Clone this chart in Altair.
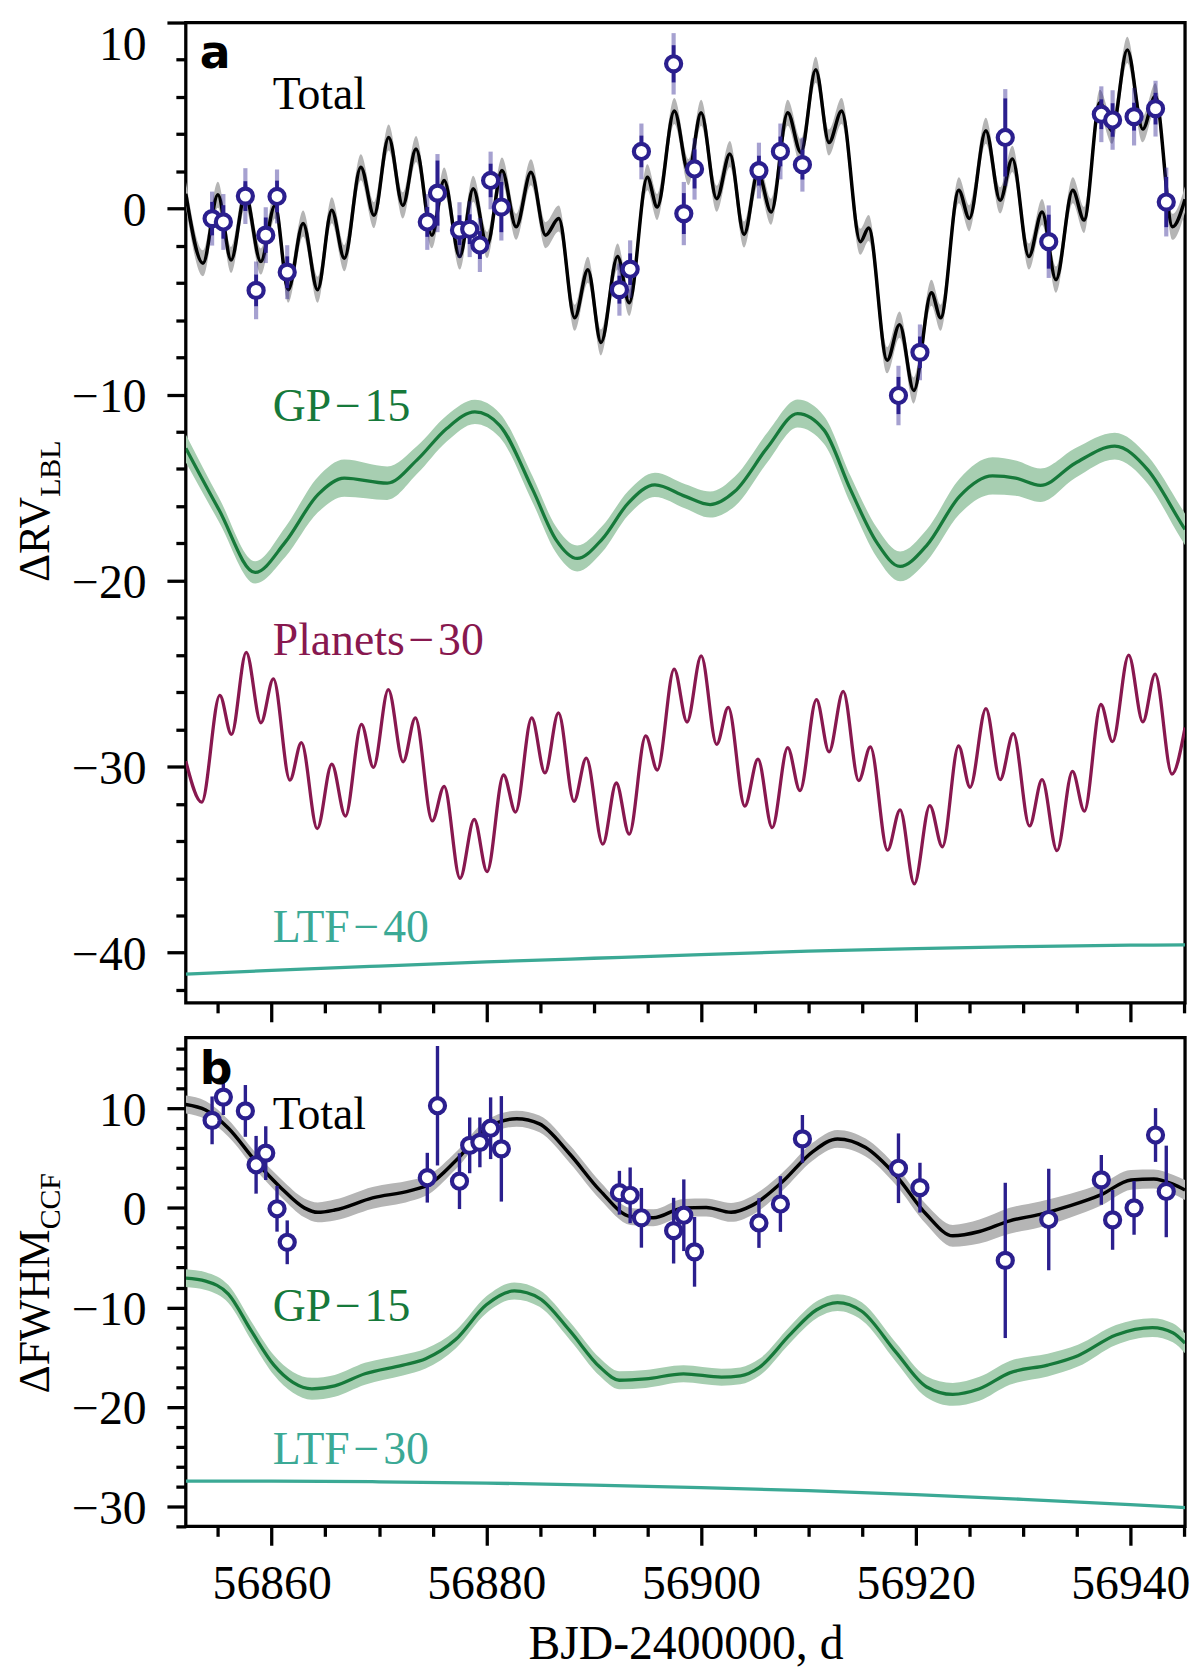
import altair as alt
import pandas as pd

# ---------------- data ----------------
OBS_T = [56854.45, 56855.5, 56857.55, 56858.55, 56859.45, 56860.5, 56861.45,
         56874.5, 56875.45, 56877.5, 56878.45, 56879.4, 56880.4, 56881.4,
         56892.4, 56893.4, 56894.45, 56897.45, 56898.4, 56899.4,
         56905.4, 56907.4, 56909.45, 56918.4, 56920.4, 56928.35, 56932.4,
         56937.3, 56938.35, 56940.35, 56942.35, 56943.35]
RV = [-0.54, -0.72, 0.67, -4.4, -1.43, 0.65, -3.42,
      -0.72, 0.83, -1.16, -1.11, -1.96, 1.51, 0.08,
      -4.36, -3.26, 3.07, 7.78, -0.27, 2.13,
      2.04, 3.07, 2.36, -10.05, -7.73, 3.82, -1.78,
      5.07, 4.76, 4.94, 5.37, 0.35]
RV_ERR_IN = [0.9, 0.9, 0.8, 0.85, 0.95, 0.85, 0.85,
             0.8, 1.75, 0.8, 0.8, 0.75, 0.9, 1.35,
             0.75, 0.85, 0.85, 1.0, 1.1, 1.05,
             0.8, 0.8, 0.8, 1.0, 0.85, 2.1, 1.45,
             0.8, 0.9, 0.75, 0.85, 1.35]
RV_ERR_OUT = [1.45, 1.5, 1.5, 1.55, 1.5, 1.45, 1.45,
              1.5, 2.1, 1.5, 1.5, 1.45, 1.55, 1.8,
              1.4, 1.55, 1.5, 1.65, 1.7, 1.65,
              1.5, 1.5, 1.45, 1.6, 1.5, 2.6, 1.95,
              1.5, 1.6, 1.55, 1.5, 1.85]
FWHM = [8.79, 11.13, 9.74, 4.33, 5.5, -0.09, -3.46,
        3.03, 10.26, 2.68, 6.28, 6.58, 8.0, 5.93,
        1.52, 1.26, -1.0, -2.29, -0.74, -4.42,
        -1.52, 0.39, 6.93, 3.98, 2.03, -5.28, -1.17,
        2.81, -1.21, 0.0, 7.32, 1.65]
FWHM_ERR = [2.4, 1.8, 2.6, 2.9, 2.7, 2.3, 2.2,
            2.5, 6.0, 2.8, 2.8, 2.5, 3.1, 5.3,
            2.2, 2.8, 3.0, 3.3, 3.6, 3.5,
            2.5, 2.8, 2.4, 3.5, 2.5, 7.8, 5.1,
            2.5, 3.0, 2.7, 2.7, 4.6]

# panel a: total model
TOTA_T = [56852.0, 56853.6, 56854.99, 56856.22, 56857.54, 56858.99, 56860.31, 56861.54,
          56862.93, 56864.28, 56865.6, 56866.77, 56868.31, 56869.54, 56870.9, 56872.22,
          56873.45, 56874.93, 56876.07, 56877.52, 56878.78, 56880.07, 56881.46, 56882.78,
          56884.16, 56885.52, 56886.75, 56888.23, 56889.46, 56890.69, 56892.23, 56893.31,
          56895.0, 56895.92, 56897.52, 56898.84, 56900.01, 56901.46, 56902.69, 56904.02,
          56905.31, 56906.54, 56908.08, 56909.31, 56910.69, 56911.93, 56913.1, 56914.85,
          56915.62, 56917.35, 56918.5, 56919.83, 56921.47, 56922.33, 56924.02, 56925.0,
          56926.54, 56927.87, 56929.01, 56930.55, 56931.78, 56933.07, 56934.64, 56935.69,
          56937.16, 56938.3, 56939.72, 56941.16, 56942.33, 56943.94, 56945.1]
TOTA_Y = [0.8, -2.94, 0.74, -2.76, 0.74, -2.85, 0.17, -4.36,
          -0.80, -4.36, -0.09, -2.67, 2.22, -0.36, 3.82, 0.17,
          3.2, -1.43, 1.51, -2.58, 1.06, -1.96, 2.04, -0.98,
          1.95, -1.43, -0.54, -5.87, -3.29, -7.2, -2.58, -5.07,
          1.68, 0.08, 5.24, 1.95, 5.15, 0.53, 2.93, -1.39,
          1.95, -0.18, 5.15, 3.02, 7.46, 3.55, 5.24, -1.78,
          -1.04, -8.15, -6.24, -9.78, -4.53, -5.87, 0.98, -0.53,
          4.18, 0.44, 2.67, -2.58, -0.18, -3.82, 0.98, -0.62,
          5.69, 4.18, 8.53, 4.27, 6.04, -0.98, 0.5]
TOTA_W = 0.7

# panel a: GP - 15
GPA_T = [56852.0, 56855.08, 56858.46, 56861.23, 56864.31, 56866.77, 56870.77, 56873.55,
         56876.31, 56878.93, 56881.24, 56884.32, 56886.47, 56888.47, 56890.78, 56893.24,
         56895.71, 56898.54, 56900.85, 56903.16, 56906.24, 56909.0, 56911.47, 56913.93,
         56916.39, 56918.55, 56921.0, 56924.09, 56927.16, 56929.32, 56931.63, 56934.86,
         56938.55, 56941.63, 56944.71, 56945.1]
GPA_Y = [-12.89, -16.18, -19.56, -17.96, -15.38, -14.49, -14.76, -13.51,
         -11.82, -10.93, -11.65, -15.11, -17.78, -18.81, -17.78, -15.82,
         -14.85, -15.47, -15.91, -15.2, -12.8, -11.02, -11.91, -15.11,
         -17.96, -19.24, -18.13, -15.47, -14.37, -14.49, -14.88, -13.69,
         -12.77, -14.05, -16.89, -17.25]
GPA_W = [0.75, 0.65, 0.6, 0.8, 0.95, 1.0, 0.9, 0.75,
         0.7, 0.65, 0.65, 0.7, 0.7, 0.7, 0.7, 0.65,
         0.65, 0.65, 0.7, 0.8, 0.8, 0.75, 0.75, 0.75,
         0.8, 0.8, 0.85, 0.95, 1.0, 0.95, 0.9, 0.8,
         0.72, 0.75, 0.85, 0.85]

# panel a: Planets - 30
PLA_T = [56852.0, 56853.48, 56855.17, 56856.25, 56857.63, 56859.0, 56860.16, 56861.7,
         56862.77, 56864.25, 56865.6, 56866.87, 56868.37, 56869.48, 56870.87, 56872.25,
         56873.39, 56874.96, 56876.07, 56877.55, 56878.87, 56880.07, 56881.61, 56882.72,
         56884.23, 56885.46, 56886.72, 56888.17, 56889.31, 56890.85, 56892.11, 56893.31,
         56894.85, 56895.93, 56897.5, 56898.7, 56900.02, 56901.46, 56902.54, 56904.08,
         56905.31, 56906.63, 56908.08, 56909.22, 56910.76, 56911.93, 56913.25, 56914.7,
         56915.78, 56917.38, 56918.55, 56919.87, 56921.32, 56922.49, 56924.0, 56925.07,
         56926.55, 56927.87, 56929.1, 56930.61, 56931.78, 56933.17, 56934.61, 56935.72,
         56937.26, 56938.34, 56939.85, 56941.17, 56942.31, 56943.88, 56945.1]
PLA_Y = [-29.7, -31.91, -26.17, -28.27, -23.86, -27.64, -25.28, -30.72,
         -28.71, -33.33, -29.86, -32.66, -27.73, -30.04, -25.86, -29.74,
         -27.38, -32.92, -31.06, -36.0, -32.83, -35.64, -30.45, -32.44,
         -27.38, -30.34, -27.11, -31.86, -29.54, -34.17, -30.88, -33.63,
         -28.35, -30.18, -24.76, -27.6, -24.05, -28.8, -26.81, -32.12,
         -29.6, -33.28, -28.98, -31.29, -26.4, -29.21, -25.95, -30.75,
         -28.94, -34.49, -32.32, -36.3, -32.09, -34.31, -28.89, -31.11,
         -26.88, -30.7, -28.23, -33.19, -30.7, -34.52, -30.26, -32.39,
         -26.66, -28.66, -24.0, -27.59, -25.03, -30.4, -27.9]

# panel a: LTF - 40
LTFA_T = [56852, 56860, 56870, 56880, 56890, 56900, 56910, 56920, 56930, 56940, 56945.1]
LTFA_Y = [-41.15, -40.95, -40.72, -40.5, -40.3, -40.1, -39.92, -39.78, -39.67, -39.6, -39.58]

# panel b: total model
TOTB_T = [56852.0, 56853.85, 56855.97, 56858.45, 56860.92, 56863.04, 56864.3, 56865.87,
          56869.4, 56872.93, 56874.7, 56877.17, 56880.0, 56882.83, 56884.95, 56887.77,
          56890.6, 56893.43, 56895.55, 56898.37, 56900.49, 56902.8, 56904.73, 56907.56,
          56910.39, 56912.72, 56915.34, 56918.16, 56920.99, 56923.46, 56925.94, 56928.76,
          56931.59, 56934.42, 56937.24, 56940.07, 56942.19, 56943.96, 56945.1]
TOTB_Y = [10.39, 9.83, 8.0, 4.76, 1.95, 0.0, -0.45, -0.22,
          1.0, 1.73, 2.38, 4.76, 8.0, 8.96, 8.44, 5.41,
          1.73, -0.87, -1.0, 0.0, 0.04, -0.45, 0.22, 2.6,
          5.63, 6.93, 6.06, 3.25, -0.65, -2.81, -2.38, -1.3,
          -0.65, 0.22, 1.3, 2.81, 2.9, 2.38, 1.8]
TOTB_W = [0.9, 0.9, 0.85, 0.85, 0.9, 0.95, 1.0, 1.05,
          1.1, 1.05, 0.95, 0.85, 0.8, 0.8, 0.85, 0.9,
          0.9, 0.85, 0.85, 0.9, 0.9, 0.95, 0.95, 0.9,
          0.9, 0.9, 0.9, 0.95, 1.0, 1.1, 1.2, 1.3,
          1.3, 1.2, 1.1, 1.0, 0.95, 0.95, 1.0]

# panel b: GP - 15
GPB_T = [56852.0, 56853.85, 56855.97, 56858.09, 56860.21, 56861.98, 56863.75, 56865.87,
         56868.69, 56872.23, 56874.35, 56877.17, 56880.0, 56882.61, 56884.95, 56887.77,
         56890.6, 56892.37, 56894.84, 56898.37, 56901.91, 56903.67, 56905.44, 56908.27,
         56910.74, 56912.72, 56914.98, 56918.16, 56920.99, 56923.46, 56925.94, 56928.76,
         56932.3, 56935.12, 56938.66, 56942.05, 56943.96, 56945.1]
GPB_Y = [-7.06, -7.36, -8.66, -12.34, -15.8, -17.53, -18.18, -17.88,
         -16.67, -15.8, -15.15, -13.2, -9.74, -8.35, -9.09, -12.34,
         -16.02, -17.32, -17.19, -16.67, -17.01, -16.88, -16.02, -12.77,
         -10.26, -9.52, -10.39, -14.5, -17.97, -18.74, -18.18, -16.58,
         -15.8, -14.85, -12.77, -12.03, -12.55, -13.6]
GPB_W = [0.9, 0.9, 0.9, 0.95, 1.0, 1.05, 1.1, 1.1,
         1.1, 1.05, 1.0, 0.9, 0.85, 0.85, 0.85, 0.9,
         0.9, 0.9, 0.9, 0.85, 0.85, 0.85, 0.85, 0.85,
         0.85, 0.85, 0.9, 0.95, 1.05, 1.15, 1.2, 1.2,
         1.15, 1.1, 1.0, 0.95, 0.95, 1.0]

# panel b: LTF - 30
LTFB_T = [56852, 56860, 56870, 56880, 56890, 56900, 56910, 56920, 56930, 56940, 56945.1]
LTFB_Y = [-27.45, -27.45, -27.52, -27.65, -27.85, -28.1, -28.42, -28.82, -29.28, -29.82, -30.12]

# annotations
LABELS_A = ['Total', 'GP\u200a\u2212\u200a15', 'Planets\u200a\u2212\u200a30', 'LTF\u200a\u2212\u200a40']
LABELS_A_Y = [5.35, -11.44, -23.98, -39.45]
LABELS_B = ['Total', 'GP\u200a\u2212\u200a15', 'LTF\u200a\u2212\u200a30']
LABELS_B_Y = [7.9, -11.4, -25.7]
LABEL_X = 56860.1
LETTER_X = 56853.3
LETTER_A_Y = 7.54
LETTER_B_Y = 12.4

X_MAJOR = [56860, 56880, 56900, 56920, 56940]
X_MINOR = [v for v in range(56855, 56946, 5) if v % 20 != 0]
YA_MAJOR = [-40, -30, -20, -10, 0, 10]
YA_MINOR = [v for v in range(-42, 10, 2) if v % 10 != 0]
YB_MAJOR = [-30, -20, -10, 0, 10]
YB_MINOR = [v for v in range(-32, 17, 2) if v % 10 != 0]

# ---------------- styles ----------------
NAVY = '#2b1f8e'
GREEN = '#16793a'
GREEN_BAND = '#a7ceb1'
PLUM = '#88184f'
TEAL = '#3ba995'
GREY_BAND = '#b5b5b5'
SERIF = 'Liberation Serif'

WA, HA = 1006, 987
WB, HB = 1006, 492

xs = alt.Scale(domain=[56852, 56945.1], nice=False, zero=False)
yas = alt.Scale(domain=[-42.7, 10], nice=False, zero=False)
ybs = alt.Scale(domain=[-32, 17.1], nice=False, zero=False)


def x_major(labels):
    if labels:
        return alt.Axis(values=X_MAJOR, tickSize=19, format='d', labelFlush=False,
                        labelPadding=16, title='BJD-2400000, d', titlePadding=12,
                        orient='bottom', domain=False, grid=False)
    return alt.Axis(values=X_MAJOR, tickSize=19, labels=False, title=None,
                    orient='bottom', domain=False, grid=False)


def x_minor():
    return alt.Axis(values=X_MINOR, tickSize=10, labels=False, title=None,
                    orient='bottom', domain=False, grid=False)


def y_major(vals):
    return alt.Axis(values=vals, tickSize=19, format='d', labelPadding=21, labelOffset=3,
                    labelFlush=True, labelFlushOffset=4,
                    title=None, orient='left', domain=False, grid=False)


def y_minor(vals):
    return alt.Axis(values=vals, tickSize=10, labels=False, title=None,
                    orient='left', domain=False, grid=False)


def band_df(t, y, w):
    ws = w if isinstance(w, list) else [w] * len(t)
    return pd.DataFrame({'t': t, 'y': y,
                         'lo': [a - b for a, b in zip(y, ws)],
                         'hi': [a + b for a, b in zip(y, ws)]})


def X(axis=None):
    return alt.X('t:Q', scale=xs, axis=axis)


def build_panel(ys, W, H, tot, tot_w, gp, gp_w, extra_lines, obs_df, err_layers,
                labels, labels_y, letter, letter_y, ymaj, ymin, title_main, title_sub, junction):
    totdf = band_df(tot[0], tot[1], tot_w)
    gpdf = band_df(gp[0], gp[1], gp_w)
    layers = []
    layers.append(alt.Chart(totdf).mark_area(color=GREY_BAND, interpolate='monotone', clip=True).encode(
        x=X(x_major(letter == 'b')), y=alt.Y('lo:Q', scale=ys, axis=y_major(ymaj)), y2='hi:Q'))
    layers.append(alt.Chart(totdf).mark_line(color='black', strokeWidth=3.5, interpolate='monotone', clip=True).encode(
        x=X(x_minor()), y=alt.Y('y:Q', scale=ys, axis=y_minor(ymin))))
    layers.append(alt.Chart(gpdf).mark_area(color=GREEN_BAND, interpolate='monotone', clip=True).encode(
        x=X(), y=alt.Y('lo:Q', scale=ys, axis=None), y2='hi:Q'))
    layers.append(alt.Chart(gpdf).mark_line(color=GREEN, strokeWidth=3.3, interpolate='monotone', clip=True).encode(
        x=X(), y=alt.Y('y:Q', scale=ys, axis=None)))
    for (t, y, col) in extra_lines:
        layers.append(alt.Chart(pd.DataFrame({'t': t, 'y': y})).mark_line(
            color=col, strokeWidth=3.3, interpolate='monotone', clip=True).encode(
            x=X(), y=alt.Y('y:Q', scale=ys, axis=None)))
    for (lo, hi, opac, sw) in err_layers:
        layers.append(alt.Chart(obs_df).mark_rule(color=NAVY, opacity=opac, strokeWidth=sw).encode(
            x=X(), y=alt.Y(lo + ':Q', scale=ys, axis=None), y2=hi + ':Q'))
    layers.append(alt.Chart(obs_df).mark_point(shape='circle', filled=True, fill='white', stroke=NAVY,
                                               strokeWidth=4.2, size=230, opacity=1).encode(
        x=X(), y=alt.Y('v:Q', scale=ys, axis=None)))
    cols = ['black', GREEN, PLUM, TEAL] if len(labels) == 4 else ['black', GREEN, TEAL]
    lab = pd.DataFrame({'t': [LABEL_X] * len(labels), 'y': labels_y, 's': labels, 'c': cols})
    layers.append(alt.Chart(lab).mark_text(font=SERIF, fontSize=46, align='left', baseline='alphabetic').encode(
        x=X(), y=alt.Y('y:Q', scale=ys, axis=None), text='s:N', color=alt.Color('c:N', scale=None)))
    let = pd.DataFrame({'t': [LETTER_X], 'y': [letter_y], 's': [letter]})
    layers.append(alt.Chart(let).mark_text(font='DejaVu Sans', fontWeight='bold', fontSize=46, align='left',
                                           baseline='alphabetic', color='black').encode(
        x=X(), y=alt.Y('y:Q', scale=ys, axis=None), text='s:N'))
    layers.append(alt.Chart(pd.DataFrame({'s': [title_main]})).mark_text(
        font=SERIF, fontSize=44, angle=270, align='right', baseline='alphabetic', color='black').encode(
        x=alt.value(-138), y=alt.value(junction), text='s:N'))
    layers.append(alt.Chart(pd.DataFrame({'s': [title_sub]})).mark_text(
        font=SERIF, fontSize=30, angle=270, align='left', baseline='alphabetic', color='black').encode(
        x=alt.value(-127), y=alt.value(junction), text='s:N'))
    return alt.layer(*layers).properties(width=W, height=H).resolve_axis(x='independent', y='independent')


obs_a = pd.DataFrame({'t': OBS_T, 'v': RV,
                      'lo_in': [a - b for a, b in zip(RV, RV_ERR_IN)],
                      'hi_in': [a + b for a, b in zip(RV, RV_ERR_IN)],
                      'lo_out': [a - b for a, b in zip(RV, RV_ERR_OUT)],
                      'hi_out': [a + b for a, b in zip(RV, RV_ERR_OUT)]})
obs_b = pd.DataFrame({'t': OBS_T, 'v': FWHM,
                      'lo_in': [a - b for a, b in zip(FWHM, FWHM_ERR)],
                      'hi_in': [a + b for a, b in zip(FWHM, FWHM_ERR)]})

panel_a = build_panel(yas, WA, HA, (TOTA_T, TOTA_Y), TOTA_W, (GPA_T, GPA_Y), GPA_W,
                      [(PLA_T, PLA_Y, PLUM), (LTFA_T, LTFA_Y, TEAL)], obs_a,
                      [('lo_out', 'hi_out', 0.42, 4.2), ('lo_in', 'hi_in', 1.0, 3.8)],
                      LABELS_A, LABELS_A_Y, 'a', LETTER_A_Y, YA_MAJOR, YA_MINOR,
                      '\u0394RV', 'LBL', HA / 2 - 16)
panel_b = build_panel(ybs, WB, HB, (TOTB_T, TOTB_Y), TOTB_W, (GPB_T, GPB_Y), GPB_W,
                      [(LTFB_T, LTFB_Y, TEAL)], obs_b,
                      [('lo_in', 'hi_in', 1.0, 3.4)],
                      LABELS_B, LABELS_B_Y, 'b', LETTER_B_Y, YB_MAJOR, YB_MINOR,
                      '\u0394FWHM', 'CCF', HB / 2 - 53)

chart = alt.vconcat(panel_a, panel_b, spacing=10,
                    padding={'left': 4, 'top': 5, 'right': 0, 'bottom': -4}).configure_view(
    stroke='black', strokeWidth=3.3
).configure_axis(
    labelFont=SERIF, labelFontSize=48, labelColor='black',
    titleFont=SERIF, titleFontSize=48, titleFontWeight='normal', titleColor='black',
    tickColor='black', tickWidth=3.3, domain=False, grid=False
)

chart.save("out.html", embed_options={"renderer": "svg", "actions": False})
